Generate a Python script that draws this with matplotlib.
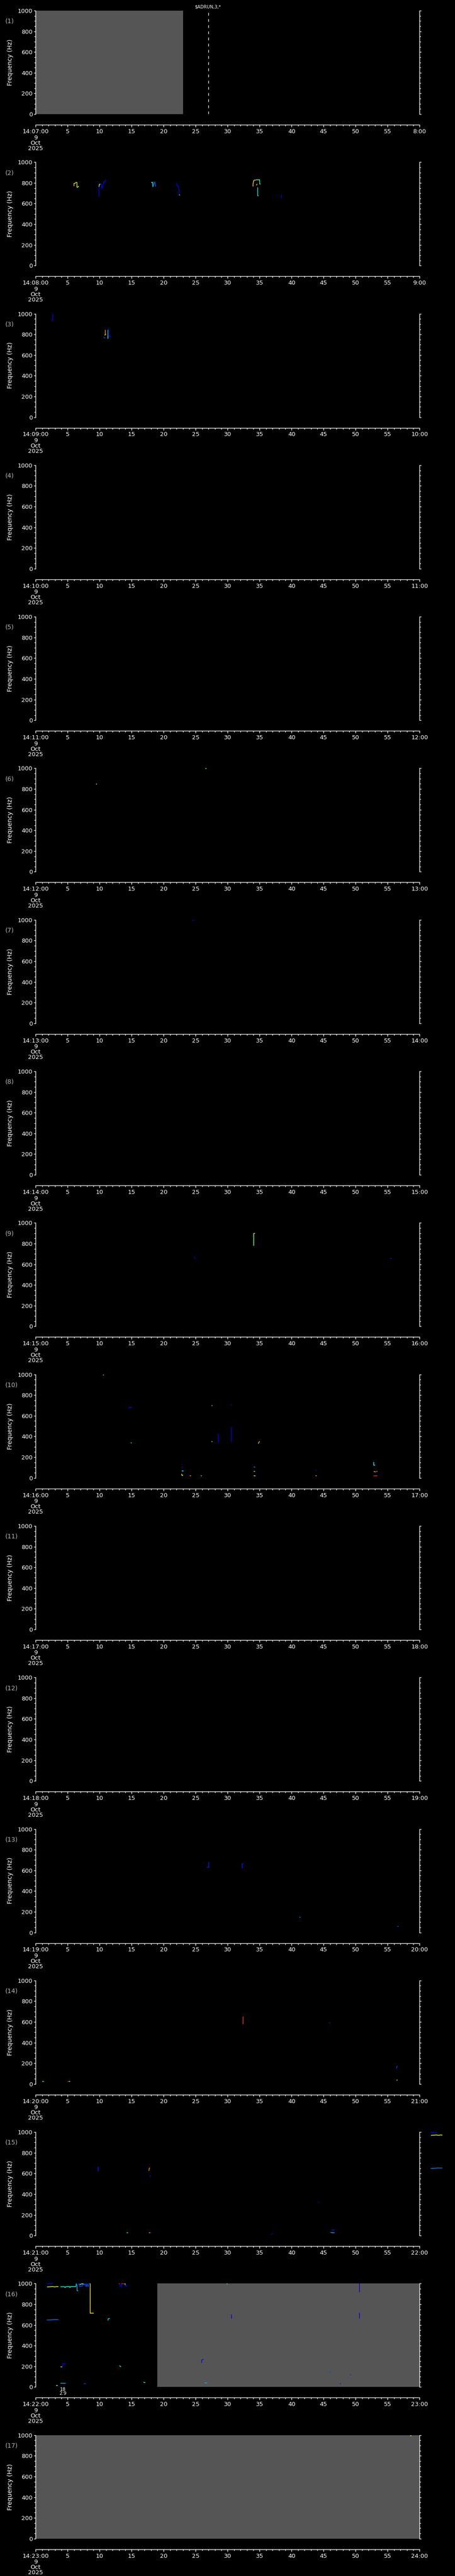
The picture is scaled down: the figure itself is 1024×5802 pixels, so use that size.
"""
Pitch-track panels, one minute per panel (14:07 - 14:24, 9 Oct 2025)
"""
import matplotlib
matplotlib.use('Agg')
import matplotlib.pyplot as plt
from matplotlib.ticker import MultipleLocator, FixedLocator

# minute of each panel (hour 14)
start_minutes = list(range(7, 24))
date_lines = ['9', 'Oct', '2025']
title_text = r'\$ADRUN,3,*'
marker_time = 27          # dashed marker in panel 1 (s)

# grey "no data" spans: panel index -> (start s, end s)
gray_spans = {0: (0, 23), 15: (19, 60), 16: (0, 60)}

# traces: (times in s, frequencies in Hz, colour level 0..1 on jet)
trace_p02 = [
    ([5.99, 5.99, 6.2, 6.3, 6.45], [768, 795, 797, 805, 805], 0.68),
    ([6.45, 6.45, 6.6, 6.65, 6.75], [805, 758, 758, 767, 765], 0.55),
    ([9.89, 9.89], [665, 762], 0.12),
    ([9.89, 9.95, 10.1], [762, 785, 788], 0.55),
    ([10.1, 10.3, 10.34, 10.57, 10.62, 10.84, 10.9, 11.0],
     [788, 788, 744, 788, 808, 808, 825, 825], 0.12),
    ([18.0, 18.28, 18.28, 18.4], [804, 804, 767, 767], 0.38),
    ([18.4, 18.5, 18.55, 18.65, 18.7, 18.82], [767, 790, 806, 806, 770, 767], 0.22),
    ([22.04, 22.1, 22.25, 22.3, 22.37, 22.4], [801, 773, 773, 751, 751, 684], 0.1),
    ([22.4, 22.55], [684, 684], 0.38),
    ([33.97, 33.97, 34.08, 34.15, 34.4], [765, 790, 820, 827, 827], 0.68),
    ([34.4, 34.45, 35.0, 35.02, 35.15], [827, 830, 830, 788, 788], 0.42),
    ([34.45, 34.55, 34.6], [780, 780, 790], 0.7),
    ([34.69, 34.69, 34.85], [758, 675, 675], 0.36),
    ([38.4, 38.42, 38.45], [651, 670, 684], 0.1),
]
trace_p03 = [
    ([2.5, 2.6, 2.67, 2.67], [925, 935, 935, 1000], 0.1),
    ([10.65, 10.75, 10.9], [775, 766, 766], 0.2),
    ([10.88, 10.88], [842, 800], 0.75),
    ([10.8, 10.88, 11.0], [790, 800, 800], 0.68),
    ([11.29, 11.29], [842, 756], 0.38),
    ([11.38, 11.38, 11.55, 11.7], [856, 790, 785, 770], 0.12),
]
trace_p06 = [
    ([9.4, 9.55], [846, 846], 0.6),
    ([26.5, 26.7], [996, 996], 0.38),
]
trace_p07 = [
    ([24.47, 24.75], [994, 994], 0.12),
]
trace_p09 = [
    ([24.8, 24.9, 25.0], [674, 660, 653], 0.1),
    ([34.1, 34.1, 34.25], [780, 900, 900], 0.5),
    ([55.4, 55.6], [660, 660], 0.15),
]
trace_p10 = [
    ([10.5, 10.65], [996, 996], 0.38),
    ([14.5, 14.6, 15.05], [672, 680, 680], 0.12),
    ([14.85, 15.0], [340, 336], 0.38),
    ([27.45, 27.6], [700, 700], 0.72),
    ([30.55, 30.65], [705, 705], 0.15),
    ([27.5, 27.6], [351, 351], 0.55),
    ([28.5, 28.5], [340, 425], 0.1),
    ([30.6, 30.6], [344, 494], 0.1),
    ([34.8, 34.9, 35.0], [330, 345, 354], 0.72),
    ([22.8, 22.9], [133, 133], 0.15),
    ([22.8, 22.9, 23.0], [96, 100, 105], 0.12),
    ([22.8, 23.1], [67, 67], 0.38),
    ([22.8, 22.85, 23.05], [39, 24, 24], 0.62),
    ([24.1, 24.3], [21, 21], 0.75),
    ([25.8, 25.95], [21, 21], 0.68),
    ([34.1, 34.3], [105, 103], 0.3),
    ([34.1, 34.25], [63, 63], 0.55),
    ([34.1, 34.35], [21, 21], 0.6),
    ([43.75, 43.9], [73, 73], 0.12),
    ([43.75, 43.95], [21, 21], 0.75),
    ([52.85, 52.85, 53.0], [153, 122, 122], 0.38),
    ([53.0, 53.2], [122, 122], 0.12),
    ([52.85, 53.1, 53.4], [64, 57, 64], 0.72),
    ([53.1, 53.3], [57, 57], 0.15),
    ([52.85, 53.4], [21, 21], 0.85),
    ([54.05, 54.15], [39, 39], 0.12),
]
trace_p13 = [
    ([26.8, 27.05, 27.05], [629, 629, 681], 0.15),
    ([32.3, 32.3, 32.5], [620, 665, 665], 0.15),
    ([41.2, 41.4], [150, 150], 0.3),
    ([56.5, 56.7], [60, 60], 0.2),
]
trace_p14 = [
    ([1.0, 1.3], [23, 23], 0.38),
    ([4.95, 5.2], [23, 23], 0.88),
    ([5.2, 5.4], [23, 23], 0.5),
    ([32.4, 32.4], [580, 650], 0.85),
    ([45.8, 46.0], [590, 590], 0.15),
    ([56.4, 56.5], [150, 175], 0.2),
    ([56.4, 56.6], [40, 40], 0.4),
]
trace_p15 = [
    ([9.75, 9.75, 9.85], [664, 622, 622], 0.15),
    ([17.7, 17.75, 17.85], [625, 650, 654], 0.75),
    ([17.8, 17.95, 18.0], [582, 575, 568], 0.12),
    ([14.2, 14.4], [27, 27], 0.38),
    ([17.7, 17.9], [27, 27], 0.75),
    ([17.9, 18.1], [27, 27], 0.15),
    ([36.8, 37.05], [14, 18], 0.12),
    ([44.1, 44.3], [323, 323], 0.12),
    ([46.25, 46.7], [53, 53], 0.15),
    ([46.1, 46.4, 46.7], [31, 27, 27], 0.3),
]
trace_p16 = [
    ([1.74, 2.7], [998, 998], 0.12),
    ([1.78, 2.3, 2.6, 3.0, 3.3, 3.56], [968, 970, 972, 968, 972, 970], 0.62),
    ([1.74, 2.4, 2.7, 3.56], [648, 649, 652, 652], 0.25),
    ([3.87, 4.5, 4.6, 4.7, 5.3, 5.35, 5.5, 6.3], [970, 970, 961, 970, 971, 962, 971, 971], 0.38),
    ([6.3, 6.33, 6.46, 6.46, 6.64], [971, 1000, 985, 931, 931], 0.3),
    ([6.76, 6.8, 6.9, 7.0, 7.3, 7.35, 7.6, 7.7, 7.9, 8.0, 8.2, 8.3, 8.54],
     [985, 1000, 970, 975, 975, 1000, 985, 1000, 970, 1000, 970, 1000, 1000], 0.2),
    ([6.9, 7.2, 7.5], [990, 998, 996], 0.55),
    ([8.54, 8.54, 9.05], [1000, 714, 714], 0.66),
    ([11.32, 11.32, 11.6], [643, 660, 664], 0.35),
    ([12.94, 13.15], [998, 998], 0.9),
    ([13.15, 13.15, 13.38, 13.38], [998, 970, 970, 998], 0.12),
    ([13.38, 13.8], [998, 998], 0.88),
    ([13.85, 14.0, 14.0], [998, 998, 985], 0.55),
    ([14.05, 14.05, 14.33], [998, 974, 974], 0.12),
    ([3.9, 4.15], [193, 193], 0.68),
    ([4.15, 4.24, 4.24, 4.6], [193, 193, 226, 226], 0.12),
    ([13.1, 13.2, 13.35], [207, 200, 197], 0.38),
    ([3.17, 3.45], [14, 14], 0.5),
    ([3.87, 4.7], [36, 36], 0.3),
    ([7.57, 7.85], [31, 31], 0.2),
    ([16.87, 16.95, 17.15], [49, 43, 43], 0.38),
    ([25.95, 25.95, 26.1, 26.23], [233, 260, 267, 267], 0.12),
    ([26.37, 26.78], [39, 39], 0.3),
    ([29.85, 30.0], [998, 998], 0.38),
    ([30.57, 30.57], [664, 700], 0.1),
    ([50.57, 50.57], [664, 717], 0.1),
    ([50.57, 50.57], [914, 1000], 0.1),
    ([46.0, 46.0], [140, 156], 0.2),
    ([49.15, 49.3], [117, 117], 0.15),
    ([47.55, 47.7], [31, 31], 0.12),
]
trace_p17 = [
    ([58.55, 58.7], [995, 995], 0.68),
]

traces = {1: trace_p02, 2: trace_p03, 5: trace_p06, 6: trace_p07, 8: trace_p09,
          9: trace_p10, 12: trace_p13, 13: trace_p14, 14: trace_p15,
          15: trace_p16, 16: trace_p17}

# the first tracks of panel 16 spill past the right axis of panel 15
spill_from_next = {14: [0, 1, 2]}
# small annotation below panel 16
note_panel, note_time, note_lines = 15, 4.26, ['18', '2.9']

W, H = 1024.0, 5802.0
BLOCK = H / 17
LEFT, PW, TOP, PH = 80.3, 864.0, 24.0, 233.0
FS = 9.5
cmap = plt.get_cmap('jet')

plt.rcParams['font.family'] = ['DejaVu Sans']
fig = plt.figure(figsize=(W / 100, H / 100), dpi=100, facecolor='black')

for k, minute in enumerate(start_minutes):
    y0 = k * BLOCK
    ax = fig.add_axes([LEFT / W, 1 - (y0 + TOP + PH) / H, PW / W, PH / H])
    ax.set_facecolor('black')
    ax.set_xlim(0, 60)
    ax.set_ylim(0, 1000)

    ax.spines['top'].set_visible(False)
    for side in ['left', 'right', 'bottom']:
        ax.spines[side].set_color('white')
        ax.spines[side].set_linewidth(1)
    ax.spines['bottom'].set_position(('outward', 24 * 0.72))

    ax.yaxis.set_major_locator(MultipleLocator(200))
    ax.yaxis.set_minor_locator(MultipleLocator(50))
    ax.xaxis.set_major_locator(FixedLocator(range(0, 61, 5)))
    ax.xaxis.set_minor_locator(MultipleLocator(1))
    xlabels = ['14:%02d:00' % minute] + [str(s) for s in range(5, 60, 5)] + ['%d:00' % (minute + 1)]
    ax.set_xticklabels(xlabels)

    ax.tick_params(axis='y', which='both', left=True, right=True, direction='out',
                   colors='white', labelsize=FS, pad=2, width=1)
    ax.tick_params(axis='y', which='major', length=3)
    ax.tick_params(axis='y', which='minor', length=2)
    ax.tick_params(axis='x', which='both', bottom=True, direction='out',
                   colors='white', labelsize=FS, pad=3, width=1)
    ax.tick_params(axis='x', which='major', length=3.4)
    ax.tick_params(axis='x', which='minor', length=2.2)

    # date lines under the first time label
    for i, txt in enumerate(date_lines):
        fig.text(LEFT / W, 1 - (y0 + 310 + 12 * i) / H, txt, color='white',
                 fontsize=FS, ha='center', va='center')

    ax.text(-0.066, 0.5, 'Frequency (Hz)', rotation=90, transform=ax.transAxes,
            color='white', fontsize=10, ha='center', va='center')
    ax.text(-0.079, 0.898, '(%d)' % (k + 1), transform=ax.transAxes,
            color='#b4b4b4', fontsize=10, ha='left', va='center')

    if k in gray_spans:
        g0, g1 = gray_spans[k]
        ax.axvspan(g0, g1, color='#555555', lw=0, zorder=0)

    for t, f, lev in traces.get(k, []):
        ax.plot(t, f, color=cmap(lev), lw=1.1, solid_capstyle='butt', zorder=2)

    for idx in spill_from_next.get(k, []):
        t, f, lev = traces[k + 1][idx]
        ax.plot([v + 60 for v in t], f, color=cmap(lev), lw=1.1,
                solid_capstyle='butt', clip_on=False, zorder=2)

    if k == 0:
        ax.axvline(marker_time, color='white', lw=1, dashes=(4.5, 5.5), zorder=3)
        fig.text(468 / W, 1 - 15.7 / H, title_text, color='white', fontsize=7,
                 ha='center', va='center')

    if k == note_panel:
        for i, txt in enumerate(note_lines):
            ax.annotate(txt, xy=(note_time, 0), xycoords='data',
                        xytext=(0, -(5.3 + 9 * i) * 0.72), textcoords='offset points',
                        color='white', fontsize=7.5, ha='center', va='center',
                        annotation_clip=False)

fig.savefig('out.png', dpi=100, facecolor='black')
